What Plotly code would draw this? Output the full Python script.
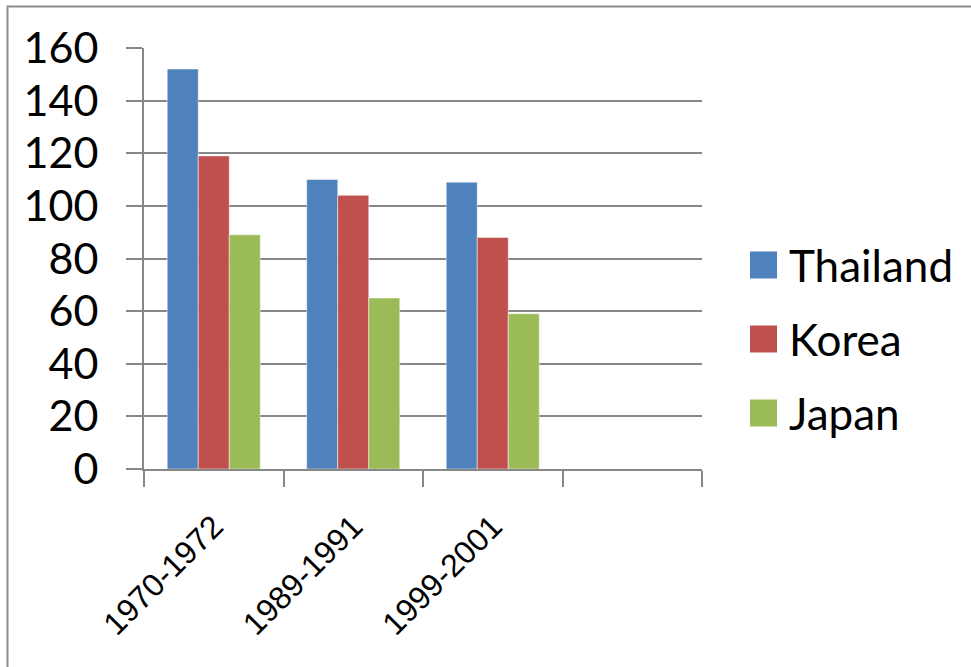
import plotly.graph_objects as go

# Data
periods = ["1970-1972", "1989-1991", "1999-2001"]
series_names = ["Thailand", "Korea", "Japan"]
thailand = [152, 110, 109]
korea = [119, 104, 88]
japan = [89, 65, 59]
y_ticks = [0, 20, 40, 60, 80, 100, 120, 140, 160]

colors = ["#4F81BD", "#C0504D", "#9BBB59"]
grid_gray = "#878787"

# Figure geometry (pixels)
FIG_W, FIG_H = 971, 667
L, R, T, B = 144, 269, 48, 198
PW = FIG_W - L - R
PH = FIG_H - T - B


def px_x(px):
    return (px - L) / PW


def px_y(py):
    return (FIG_H - B - py) / PH


positions = list(range(len(periods)))
n_slots = len(periods) + 1  # one empty slot on the right

fig = go.Figure()
for name, vals, col in zip(series_names, [thailand, korea, japan], colors):
    fig.add_trace(go.Bar(
        x=positions, y=vals, name=name,
        marker=dict(color=col, line=dict(width=0.8, color="rgba(255,255,255,0.6)")),
        showlegend=False,
    ))

boundaries = [i - 0.5 for i in range(n_slots + 1)]

fig.update_layout(
    width=FIG_W, height=FIG_H,
    margin=dict(l=L, r=R, t=T, b=B, pad=0),
    paper_bgcolor="white", plot_bgcolor="white",
    barmode="group", bargap=0.333, bargroupgap=0,
    font=dict(family="Lato", color="black"),
    xaxis=dict(
        range=[-0.5, n_slots - 0.5],
        tickmode="array", tickvals=positions, ticktext=periods,
        ticks="outside", ticklen=0, tickangle=-45,
        ticklabelstandoff=24,
        tickfont=dict(family="Liberation Sans", size=32, color="black"),
        showgrid=False, zeroline=False,
        showline=True, linecolor=grid_gray, linewidth=2,
        minor=dict(tickvals=boundaries, ticks="outside", ticklen=16,
                   tickcolor=grid_gray, tickwidth=2, showgrid=False),
    ),
    yaxis=dict(
        range=[0, 160], tickmode="array", tickvals=y_ticks,
        ticks="outside", ticklen=16, tickcolor=grid_gray, tickwidth=2,
        ticklabelstandoff=19,
        tickfont=dict(family="Lato", size=43, color="black"),
        showgrid=True, gridcolor=grid_gray, gridwidth=2,
        zeroline=False,
        showline=True, linecolor=grid_gray, linewidth=2,
    ),
)

# Chart frame
fig.add_shape(type="rect", xref="paper", yref="paper",
              x0=px_x(7.5), x1=px_x(FIG_W + 10), y0=px_y(FIG_H + 10), y1=px_y(6.5),
              line=dict(color="#8c8c8c", width=2), fillcolor="rgba(0,0,0,0)", layer="below")

# Legend
legend_y = [265, 339, 413]
for name, col, cy in zip(series_names, colors, legend_y):
    fig.add_shape(type="rect", xref="paper", yref="paper",
                  x0=px_x(750), x1=px_x(777), y0=px_y(cy + 13.5), y1=px_y(cy - 13.5),
                  line=dict(width=0), fillcolor=col)
    fig.add_annotation(xref="paper", yref="paper", x=px_x(787), y=px_y(cy),
                       text=name, showarrow=False, xanchor="left", yanchor="middle",
                       font=dict(family="Lato", size=44, color="black"))

fig.write_html("out.html")
